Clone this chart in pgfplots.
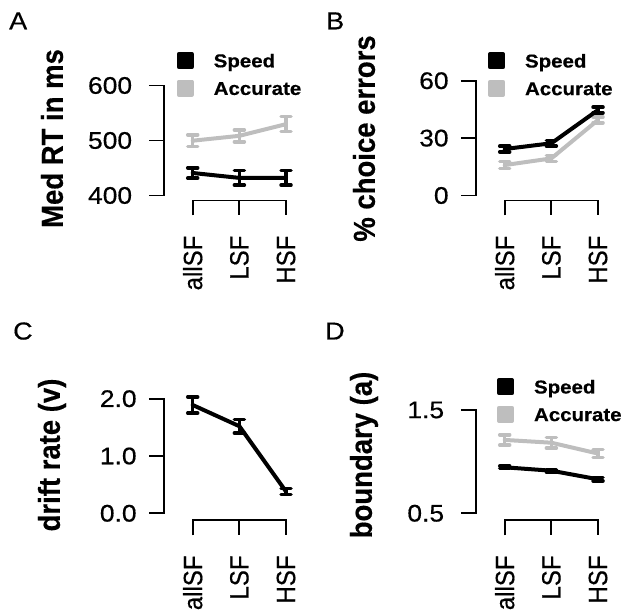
\documentclass[border=0pt]{standalone}
\usepackage{pgfplots}
\pgfplotsset{compat=1.18}
\usepackage{fontspec}
\setmainfont{Liberation Sans}[FakeBold=0.5]
\newfontfamily\wide{Liberation Sans}[FakeStretch=1.1, FakeBold=0.5]
\definecolor{gray75}{RGB}{190,190,190}

\tikzset{
  axl/.style={line width=1.8pt, line cap=butt, line join=miter},
  ytl/.style={anchor=east, xshift=-#1, inner sep=0pt, font=\wide\fontsize{24}{28}\selectfont},
  ytl/.default=29pt,
  xtl/.style={yshift=-35pt, rotate=90, yscale=1.1, anchor=east, inner sep=0pt, font=\fontsize{24}{28}\selectfont},
  ttl/.style={rotate=90, yscale=1.1, inner sep=0pt, font=\bfseries\fontsize{27.5}{32}\selectfont},
  letter/.style={anchor=base west, inner sep=0pt, font=\wide\fontsize{24.5}{28}\selectfont},
}

\pgfplotsset{
  panel/.style={scale only axis, hide axis, clip=false, anchor=south west,
    x=46.65pt, xmin=0.38, xmax=3.62,
    legend cell align=left, reverse legend,
    legend image code/.code={\fill[##1] (0pt,-6.5pt) rectangle (13pt,6.5pt); \path (33pt,0pt);},
    legend style={draw=none, fill=none, inner sep=0pt, outer sep=0pt, anchor=north west,
      row sep=10.6pt, font=\wide\bfseries\fontsize{18.6}{22}\selectfont,
      nodes={inner sep=0pt, text height=13.6pt, text depth=0pt}},
  },
  series/.style={color=#1, line width=4pt, line cap=round, line join=round, mark=none,
    error bars/.cd, y dir=both, y explicit, error mark=|,
    error bar style={line width=3.2pt, line cap=butt},
    error mark options={line width=3.5pt, mark size=5pt, line cap=round}},
}

\begin{document}
\begin{tikzpicture}
\useasboundingbox (0,0) rectangle (625pt,613pt);

% A: median RT
\begin{axis}[panel, at={(163.8pt,412.5pt)}, y=0.55pt, ymin=390.9, ymax=660,
  legend style={at={(axis cs:0.657,660.9)}}]
\addplot[series=gray75] coordinates {(1,499.6) +- (0,10.8) (2,508.5) +- (0,10.8) (3,529.7) +- (0,13.8)};
\addlegendentry{Accurate}
\addplot[series=black] coordinates {(1,440.9) +- (0,9.3) (2,432) +- (0,13) (3,432) +- (0,13)};
\addlegendentry{Speed}
\draw[axl] (axis cs:0.38,600) ++(-15pt,0pt) -- (axis cs:0.38,600) -- (axis cs:0.38,400) -- ++(-15pt,0pt);
\draw[axl] (axis cs:0.38,500) -- ++(-15pt,0pt);
\node[ytl=31.5pt] at (axis cs:0.38,600) {600};
\node[ytl=31.5pt] at (axis cs:0.38,500) {500};
\node[ytl=31.5pt] at (axis cs:0.38,400) {400};
\draw[axl] (axis cs:1,390.9) ++(0pt,-15pt) -- (axis cs:1,390.9) -- (axis cs:3,390.9) -- ++(0pt,-15pt);
\draw[axl] (axis cs:2,390.9) -- ++(0pt,-15pt);
\node[xtl] at (axis cs:1,390.9) {allSF};
\node[xtl] at (axis cs:2,390.9) {LSF};
\node[xtl] at (axis cs:3,390.9) {HSF};
\end{axis}

% B: choice errors
\begin{axis}[panel, at={(475.8pt,412.5pt)}, y=1.913pt, ymin=-2.61, ymax=80,
  legend style={at={(axis cs:0.642,74.9)}}]
\addplot[series=gray75] coordinates {(1,15.9) +- (0,1.8) (2,19.4) +- (0,1.6) (3,39.5) +- (0,1.5)};
\addlegendentry{Accurate}
\addplot[series=black] coordinates {(1,24.3) +- (0,1.5) (2,27.3) +- (0,1.5) (3,44.7) +- (0,1.5)};
\addlegendentry{Speed}
\draw[axl] (axis cs:0.38,60) ++(-15pt,0pt) -- (axis cs:0.38,60) -- (axis cs:0.38,0) -- ++(-15pt,0pt);
\draw[axl] (axis cs:0.38,30) -- ++(-15pt,0pt);
\node[ytl=27pt] at (axis cs:0.38,60) {60};
\node[ytl=27pt] at (axis cs:0.38,30) {30};
\node[ytl=27pt] at (axis cs:0.38,0) {0};
\draw[axl] (axis cs:1,-2.61) ++(0pt,-15pt) -- (axis cs:1,-2.61) -- (axis cs:3,-2.61) -- ++(0pt,-15pt);
\draw[axl] (axis cs:2,-2.61) -- ++(0pt,-15pt);
\node[xtl] at (axis cs:1,-2.61) {allSF};
\node[xtl] at (axis cs:2,-2.61) {LSF};
\node[xtl] at (axis cs:3,-2.61) {HSF};
\end{axis}

% C: drift rate
\begin{axis}[panel, at={(163.8pt,92.7pt)}, y=57.3pt, ymin=-0.122, ymax=2.5]
\addplot[series=black] coordinates {(1,1.89) +- (0,0.14) (2,1.52) +- (0,0.12) (3,0.38) +- (0,0.05)};
\draw[axl] (axis cs:0.38,2) ++(-15pt,0pt) -- (axis cs:0.38,2) -- (axis cs:0.38,0) -- ++(-15pt,0pt);
\draw[axl] (axis cs:0.38,1) -- ++(-15pt,0pt);
\node[ytl=27pt] at (axis cs:0.38,2) {2.0};
\node[ytl=27pt] at (axis cs:0.38,1) {1.0};
\node[ytl=27pt] at (axis cs:0.38,0) {0.0};
\draw[axl] (axis cs:1,-0.122) ++(0pt,-15pt) -- (axis cs:1,-0.122) -- (axis cs:3,-0.122) -- ++(0pt,-15pt);
\draw[axl] (axis cs:2,-0.122) -- ++(0pt,-15pt);
\node[xtl] at (axis cs:1,-0.122) {allSF};
\node[xtl] at (axis cs:2,-0.122) {LSF};
\node[xtl] at (axis cs:3,-0.122) {HSF};
\end{axis}

% D: boundary
\begin{axis}[panel, at={(475.8pt,92.7pt)}, y=103.3pt, ymin=0.432, ymax=1.9,
  legend style={at={(axis cs:0.835,1.808)}}]
\addplot[series=gray75] coordinates {(1,1.21) +- (0,0.05) (2,1.183) +- (0,0.052) (3,1.078) +- (0,0.04)};
\addlegendentry{Accurate}
\addplot[series=black] coordinates {(1,0.945) +- (0,0.012) (2,0.912) +- (0,0.012) (3,0.829) +- (0,0.015)};
\addlegendentry{Speed}
\draw[axl] (axis cs:0.38,1.5) ++(-15pt,0pt) -- (axis cs:0.38,1.5) -- (axis cs:0.38,0.5) -- ++(-15pt,0pt);
\node[ytl=31.5pt] at (axis cs:0.38,1.5) {1.5};
\node[ytl=31.5pt] at (axis cs:0.38,0.5) {0.5};
\draw[axl] (axis cs:1,0.432) ++(0pt,-15pt) -- (axis cs:1,0.432) -- (axis cs:3,0.432) -- ++(0pt,-15pt);
\draw[axl] (axis cs:2,0.432) -- ++(0pt,-15pt);
\node[xtl] at (axis cs:1,0.432) {allSF};
\node[xtl] at (axis cs:2,0.432) {LSF};
\node[xtl] at (axis cs:3,0.432) {HSF};
\end{axis}

\node[ttl] at (52pt,474.5pt) {Med RT in ms};
\node[ttl] at (364pt,474.5pt) {\% choice errors};
\node[ttl] at (52pt,158pt) {drift rate (v)};
\node[ttl] at (364pt,158pt) {boundary (a)};
\node[letter] at (9pt,583.7pt) {A};
\node[letter] at (326pt,583.7pt) {B};
\node[letter] at (13pt,273.5pt) {C};
\node[letter] at (325pt,273.5pt) {D};
\end{tikzpicture}
\end{document}
